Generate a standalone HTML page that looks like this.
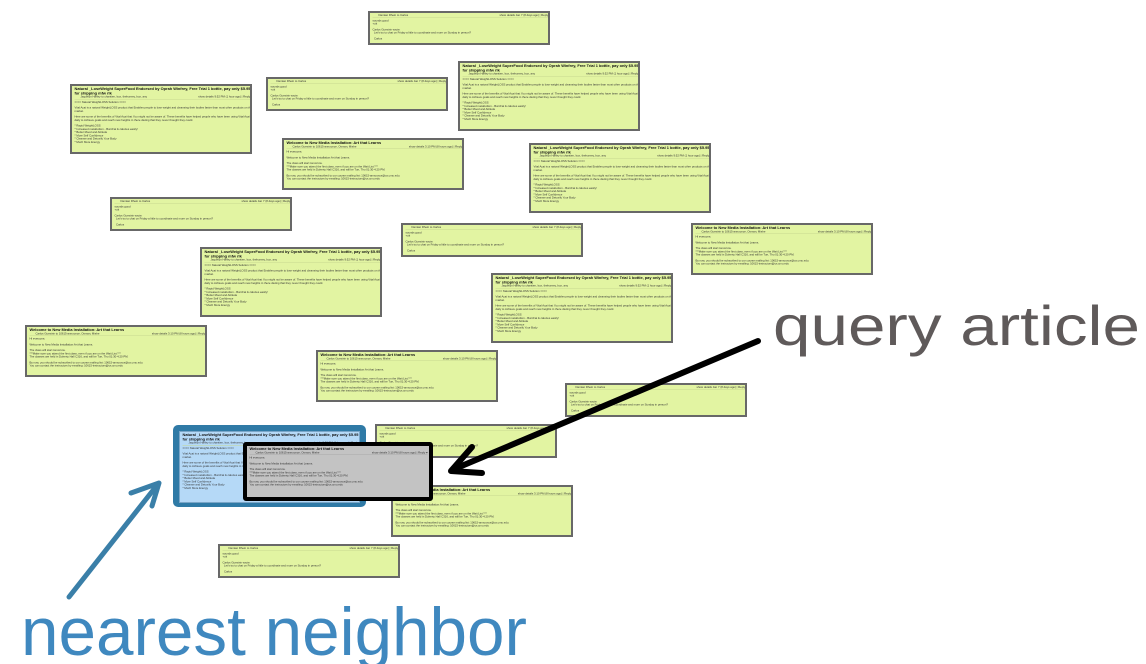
<!DOCTYPE html>
<html><head><meta charset="utf-8"><style>
body{margin:0;width:1146px;height:664px;background:#fff;position:relative;overflow:hidden;font-family:"Liberation Sans",sans-serif}
.c{position:absolute;width:182px;background:#e2f4a2;border:2px solid #686868;box-sizing:border-box;overflow:hidden}
.c>div{width:356px;transform:scale(.5);transform-origin:0 0;font:5.6px/6.5px "Liberation Sans",sans-serif;color:#333;padding:2px 5px}
.t{font-weight:bold;font-size:7.8px;line-height:8.5px;color:#111}
.h{border-bottom:1px solid #c8d890;margin-bottom:3px;display:flex;justify-content:space-between;padding-left:12px}
p{margin:0 0 5px}
.d{height:34px}.n{height:70px}.w{height:52px}
</style></head><body>

<div class="c d" style="left:368px;top:11px"><div><div class="h"><span>Damian Rhein to Carlos</span><span>show details Jan 7 (8 days ago) | Reply ▾</span></div><p>sounds good<br>+ok</p><p>Carlos Guestrin wrote:<br>&nbsp;&nbsp;Let's try to chat on Friday a little to coordinate and more on Sunday in person?</p><p>&nbsp;&nbsp;Carlos</p></div></div>

<div class="c d" style="left:266px;top:77px"><div><div class="h"><span>Damian Rhein to Carlos</span><span>show details Jan 7 (8 days ago) | Reply ▾</span></div><p>sounds good<br>+ok</p><p>Carlos Guestrin wrote:<br>&nbsp;&nbsp;Let's try to chat on Friday a little to coordinate and more on Sunday in person?</p><p>&nbsp;&nbsp;Carlos</p></div></div>

<div class="c n" style="left:458px;top:61px"><div><div class="t">Natural _LoseWeight SuperFood Endorsed by Oprah Winfrey, Free Trial 1 bottle, pay only $5.95 for shipping mfw rlk</div><div class="h"><span>Jaquelyn Harley to chantien, box, thehorney, box, any</span><span>show details 9:52 PM (1 hour ago) | Reply ▾</span></div><p>==== Natural WeightLOSS Solution ====</p><p>Vital Acai is a natural WeightLOSS product that Enables people to lose weight and cleansing their bodies faster than most other products on the market.</p><p>Here are some of the benefits of Vital Acai that You might not be aware of. These benefits have helped people who have been using Vital Acai daily to Achieve goals and reach new heights in there dieting that they never thought they could.</p><p>* Rapid WeightLOSS<br>* Increased metabolism - BurnFat &amp; calories easily!<br>* Better Mood and Attitude<br>* More Self Confidence<br>* Cleanse and Detoxify Your Body<br>* Much More Energy</p></div></div>

<div class="c n" style="left:70px;top:84px"><div><div class="t">Natural _LoseWeight SuperFood Endorsed by Oprah Winfrey, Free Trial 1 bottle, pay only $5.95 for shipping mfw rlk</div><div class="h"><span>Jaquelyn Harley to chantien, box, thehorney, box, any</span><span>show details 9:52 PM (1 hour ago) | Reply ▾</span></div><p>==== Natural WeightLOSS Solution ====</p><p>Vital Acai is a natural WeightLOSS product that Enables people to lose weight and cleansing their bodies faster than most other products on the market.</p><p>Here are some of the benefits of Vital Acai that You might not be aware of. These benefits have helped people who have been using Vital Acai daily to Achieve goals and reach new heights in there dieting that they never thought they could.</p><p>* Rapid WeightLOSS<br>* Increased metabolism - BurnFat &amp; calories easily!<br>* Better Mood and Attitude<br>* More Self Confidence<br>* Cleanse and Detoxify Your Body<br>* Much More Energy</p></div></div>

<div class="c w" style="left:282px;top:138px"><div><div class="t">Welcome to New Media Installation: Art that Learns</div><div class="h"><span>Carlos Guestrin to 10615-announce, Osman, Mishe</span><span>show details 3:10 PM (8 hours ago) | Reply ▾</span></div><p>Hi everyone,</p><p>Welcome to New Media Installation:Art that Learns.</p><p>The class will start tomorrow.<br>***Make sure you attend the first class, even if you are on the Wait List.***<br>The classes are held in Doherty Hall C316, and will be Tue, Thu 01:30-4:20 PM.</p><p>By now, you should be subscribed to our course mailing list: 10615-announce@cs.cmu.edu.<br>You can contact the instructors by emailing: 10615-instructors@cs.cmu.edu</p></div></div>

<div class="c n" style="left:529px;top:143px"><div><div class="t">Natural _LoseWeight SuperFood Endorsed by Oprah Winfrey, Free Trial 1 bottle, pay only $5.95 for shipping mfw rlk</div><div class="h"><span>Jaquelyn Harley to chantien, box, thehorney, box, any</span><span>show details 9:52 PM (1 hour ago) | Reply ▾</span></div><p>==== Natural WeightLOSS Solution ====</p><p>Vital Acai is a natural WeightLOSS product that Enables people to lose weight and cleansing their bodies faster than most other products on the market.</p><p>Here are some of the benefits of Vital Acai that You might not be aware of. These benefits have helped people who have been using Vital Acai daily to Achieve goals and reach new heights in there dieting that they never thought they could.</p><p>* Rapid WeightLOSS<br>* Increased metabolism - BurnFat &amp; calories easily!<br>* Better Mood and Attitude<br>* More Self Confidence<br>* Cleanse and Detoxify Your Body<br>* Much More Energy</p></div></div>

<div class="c d" style="left:110px;top:197px"><div><div class="h"><span>Damian Rhein to Carlos</span><span>show details Jan 7 (8 days ago) | Reply ▾</span></div><p>sounds good<br>+ok</p><p>Carlos Guestrin wrote:<br>&nbsp;&nbsp;Let's try to chat on Friday a little to coordinate and more on Sunday in person?</p><p>&nbsp;&nbsp;Carlos</p></div></div>

<div class="c d" style="left:401px;top:223px"><div><div class="h"><span>Damian Rhein to Carlos</span><span>show details Jan 7 (8 days ago) | Reply ▾</span></div><p>sounds good<br>+ok</p><p>Carlos Guestrin wrote:<br>&nbsp;&nbsp;Let's try to chat on Friday a little to coordinate and more on Sunday in person?</p><p>&nbsp;&nbsp;Carlos</p></div></div>

<div class="c w" style="left:691px;top:223px"><div><div class="t">Welcome to New Media Installation: Art that Learns</div><div class="h"><span>Carlos Guestrin to 10615-announce, Osman, Mishe</span><span>show details 3:10 PM (8 hours ago) | Reply ▾</span></div><p>Hi everyone,</p><p>Welcome to New Media Installation:Art that Learns.</p><p>The class will start tomorrow.<br>***Make sure you attend the first class, even if you are on the Wait List.***<br>The classes are held in Doherty Hall C316, and will be Tue, Thu 01:30-4:20 PM.</p><p>By now, you should be subscribed to our course mailing list: 10615-announce@cs.cmu.edu.<br>You can contact the instructors by emailing: 10615-instructors@cs.cmu.edu</p></div></div>

<div class="c n" style="left:200px;top:247px"><div><div class="t">Natural _LoseWeight SuperFood Endorsed by Oprah Winfrey, Free Trial 1 bottle, pay only $5.95 for shipping mfw rlk</div><div class="h"><span>Jaquelyn Harley to chantien, box, thehorney, box, any</span><span>show details 9:52 PM (1 hour ago) | Reply ▾</span></div><p>==== Natural WeightLOSS Solution ====</p><p>Vital Acai is a natural WeightLOSS product that Enables people to lose weight and cleansing their bodies faster than most other products on the market.</p><p>Here are some of the benefits of Vital Acai that You might not be aware of. These benefits have helped people who have been using Vital Acai daily to Achieve goals and reach new heights in there dieting that they never thought they could.</p><p>* Rapid WeightLOSS<br>* Increased metabolism - BurnFat &amp; calories easily!<br>* Better Mood and Attitude<br>* More Self Confidence<br>* Cleanse and Detoxify Your Body<br>* Much More Energy</p></div></div>

<div class="c n" style="left:491px;top:273px"><div><div class="t">Natural _LoseWeight SuperFood Endorsed by Oprah Winfrey, Free Trial 1 bottle, pay only $5.95 for shipping mfw rlk</div><div class="h"><span>Jaquelyn Harley to chantien, box, thehorney, box, any</span><span>show details 9:52 PM (1 hour ago) | Reply ▾</span></div><p>==== Natural WeightLOSS Solution ====</p><p>Vital Acai is a natural WeightLOSS product that Enables people to lose weight and cleansing their bodies faster than most other products on the market.</p><p>Here are some of the benefits of Vital Acai that You might not be aware of. These benefits have helped people who have been using Vital Acai daily to Achieve goals and reach new heights in there dieting that they never thought they could.</p><p>* Rapid WeightLOSS<br>* Increased metabolism - BurnFat &amp; calories easily!<br>* Better Mood and Attitude<br>* More Self Confidence<br>* Cleanse and Detoxify Your Body<br>* Much More Energy</p></div></div>

<div class="c w" style="left:25px;top:325px"><div><div class="t">Welcome to New Media Installation: Art that Learns</div><div class="h"><span>Carlos Guestrin to 10615-announce, Osman, Mishe</span><span>show details 3:10 PM (8 hours ago) | Reply ▾</span></div><p>Hi everyone,</p><p>Welcome to New Media Installation:Art that Learns.</p><p>The class will start tomorrow.<br>***Make sure you attend the first class, even if you are on the Wait List.***<br>The classes are held in Doherty Hall C316, and will be Tue, Thu 01:30-4:20 PM.</p><p>By now, you should be subscribed to our course mailing list: 10615-announce@cs.cmu.edu.<br>You can contact the instructors by emailing: 10615-instructors@cs.cmu.edu</p></div></div>

<div class="c w" style="left:316px;top:350px"><div><div class="t">Welcome to New Media Installation: Art that Learns</div><div class="h"><span>Carlos Guestrin to 10615-announce, Osman, Mishe</span><span>show details 3:10 PM (8 hours ago) | Reply ▾</span></div><p>Hi everyone,</p><p>Welcome to New Media Installation:Art that Learns.</p><p>The class will start tomorrow.<br>***Make sure you attend the first class, even if you are on the Wait List.***<br>The classes are held in Doherty Hall C316, and will be Tue, Thu 01:30-4:20 PM.</p><p>By now, you should be subscribed to our course mailing list: 10615-announce@cs.cmu.edu.<br>You can contact the instructors by emailing: 10615-instructors@cs.cmu.edu</p></div></div>

<div class="c d" style="left:565px;top:383px"><div><div class="h"><span>Damian Rhein to Carlos</span><span>show details Jan 7 (8 days ago) | Reply ▾</span></div><p>sounds good<br>+ok</p><p>Carlos Guestrin wrote:<br>&nbsp;&nbsp;Let's try to chat on Friday a little to coordinate and more on Sunday in person?</p><p>&nbsp;&nbsp;Carlos</p></div></div>

<div class="c d" style="left:375px;top:424px"><div><div class="h"><span>Damian Rhein to Carlos</span><span>show details Jan 7 (8 days ago) | Reply ▾</span></div><p>sounds good<br>+ok</p><p>Carlos Guestrin wrote:<br>&nbsp;&nbsp;Let's try to chat on Friday a little to coordinate and more on Sunday in person?</p><p>&nbsp;&nbsp;Carlos</p></div></div>

<div class="c w" style="left:391px;top:485px"><div><div class="t">Welcome to New Media Installation: Art that Learns</div><div class="h"><span>Carlos Guestrin to 10615-announce, Osman, Mishe</span><span>show details 3:10 PM (8 hours ago) | Reply ▾</span></div><p>Hi everyone,</p><p>Welcome to New Media Installation:Art that Learns.</p><p>The class will start tomorrow.<br>***Make sure you attend the first class, even if you are on the Wait List.***<br>The classes are held in Doherty Hall C316, and will be Tue, Thu 01:30-4:20 PM.</p><p>By now, you should be subscribed to our course mailing list: 10615-announce@cs.cmu.edu.<br>You can contact the instructors by emailing: 10615-instructors@cs.cmu.edu</p></div></div>

<div class="c d" style="left:218px;top:544px"><div><div class="h"><span>Damian Rhein to Carlos</span><span>show details Jan 7 (8 days ago) | Reply ▾</span></div><p>sounds good<br>+ok</p><p>Carlos Guestrin wrote:<br>&nbsp;&nbsp;Let's try to chat on Friday a little to coordinate and more on Sunday in person?</p><p>&nbsp;&nbsp;Carlos</p></div></div>

<div style="position:absolute;left:173px;top:425px;width:193px;height:82px;background:#2f7aa6;border-radius:5px"></div>
<div class="c" style="left:179px;top:431px;width:181px;height:72px;background:#b5d9f7;border:1px solid #7aa6c8"><div><div class="t">Natural _LoseWeight SuperFood Endorsed by Oprah Winfrey, Free Trial 1 bottle, pay only $5.95 for shipping mfw rlk</div><div class="h"><span>Jaquelyn Harley to chantien, box, thehorney, box, any</span><span>show details 9:52 PM (1 hour ago) | Reply ▾</span></div><p>==== Natural WeightLOSS Solution ====</p><p>Vital Acai is a natural WeightLOSS product that Enables people to lose weight and cleansing their bodies faster than most other products on the market.</p><p>Here are some of the benefits of Vital Acai that You might not be aware of. These benefits have helped people who have been using Vital Acai daily to Achieve goals and reach new heights in there dieting that they never thought they could.</p><p>* Rapid WeightLOSS<br>* Increased metabolism - BurnFat &amp; calories easily!<br>* Better Mood and Attitude<br>* More Self Confidence<br>* Cleanse and Detoxify Your Body<br>* Much More Energy</p></div></div>

<div class="c" style="left:243px;top:442px;width:190px;height:59px;background:#c3c3c3;border:4px solid #000;border-radius:3px"><div><div class="t">Welcome to New Media Installation: Art that Learns</div><div class="h" style="border-color:#aaa"><span>Carlos Guestrin to 10615-announce, Osman, Mishe</span><span>show details 3:10 PM (8 hours ago) | Reply ▾</span></div><p>Hi everyone,</p><p>Welcome to New Media Installation:Art that Learns.</p><p>The class will start tomorrow.<br>***Make sure you attend the first class, even if you are on the Wait List.***<br>The classes are held in Doherty Hall C316, and will be Tue, Thu 01:30-4:20 PM.</p><p>By now, you should be subscribed to our course mailing list: 10615-announce@cs.cmu.edu.<br>You can contact the instructors by emailing: 10615-instructors@cs.cmu.edu</p></div></div>

<svg width="1146" height="664" style="position:absolute;left:0;top:0">
<g stroke="#000" stroke-width="6" stroke-linecap="round" fill="none">
<line x1="758" y1="341" x2="452" y2="470"/>
<polyline points="472,447 451,471 482,473" stroke-linejoin="round"/>
</g>
<g stroke="#3a7fa8" stroke-width="5" stroke-linecap="round" fill="none">
<line x1="69" y1="597" x2="158" y2="484"/>
<polyline points="131,493 159,483 152,506" stroke-linejoin="round"/>
</g>
<text x="773" y="345" font-family="Liberation Sans, sans-serif" font-size="56" fill="#5f5a5a" textLength="367" lengthAdjust="spacingAndGlyphs">query article</text>
<text x="21" y="655" font-family="Liberation Sans, sans-serif" font-size="68" fill="#3f88bf" textLength="506" lengthAdjust="spacingAndGlyphs">nearest neighbor</text>
</svg>
</body></html>
